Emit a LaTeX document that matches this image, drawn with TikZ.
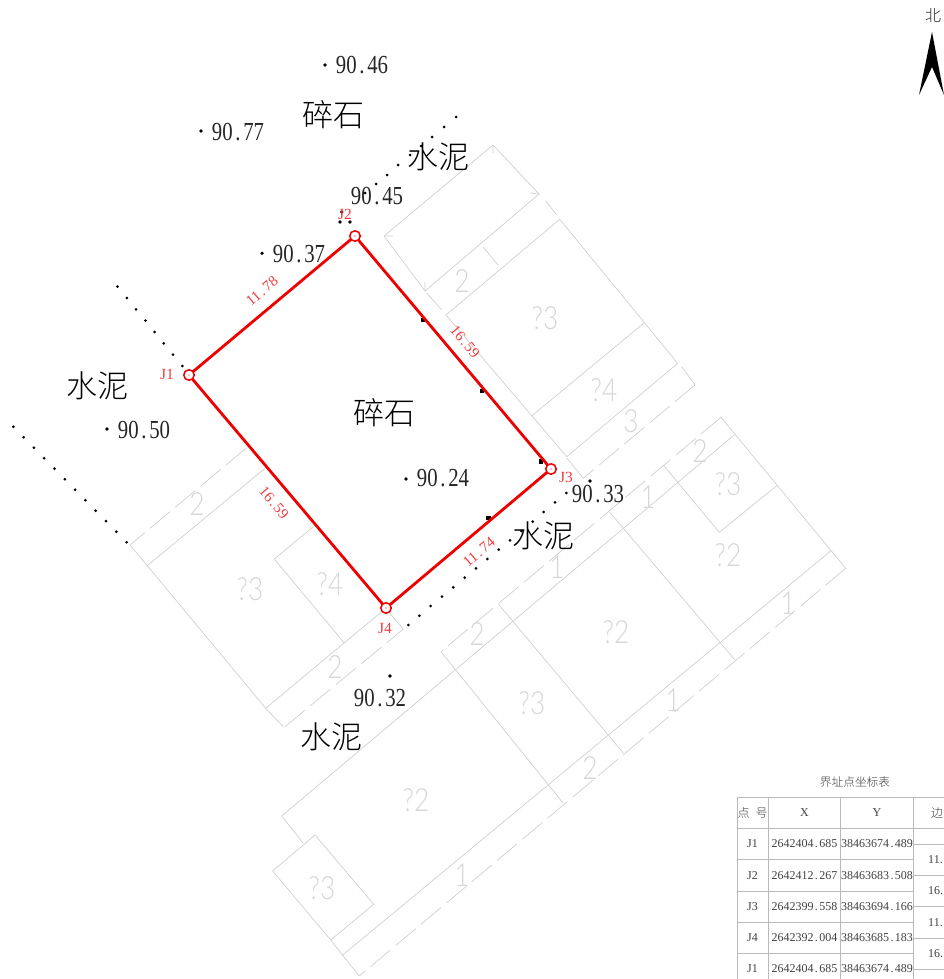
\documentclass[tikz,border=0pt]{standalone}
\usepackage{fontspec}
\usepackage{graphicx}
\setmainfont{Liberation Serif}
\newfontfamily\cjk{Noto Sans CJK SC Light}
\newfontfamily\thinsans{Lato Light}
\newcommand{\elev}[2]{\scalebox{0.8}[1]{\fontsize{26}{26}\selectfont #1\hspace{.13em}.\hspace{.13em}#2}}
\newcommand{\tnum}[2]{#1\hspace{.12em}.\hspace{.12em}#2}
\newcommand{\gtxt}[1]{\scalebox{0.82}[1]{#1}}
\definecolor{bnd}{RGB}{238,0,0}
\definecolor{lbl}{RGB}{240,60,60}
\definecolor{lin}{RGB}{205,205,205}
\definecolor{glab}{RGB}{214,214,214}
\definecolor{tbl}{RGB}{185,185,185}
\tikzset{
  gl/.style={draw=lin,line width=0.65pt},
  gd/.style={draw=lin,line width=0.65pt,dash pattern=on 26pt off 7pt},
  bnd line/.style={draw=bnd,line width=2.8pt},
  vertex/.style={circle,draw=bnd,fill=white,line width=1.5pt,minimum size=10.5pt,inner sep=0pt},
  elevtxt/.style={inner sep=0pt,text=black!85},
  word/.style={inner sep=0pt,text=black,font=\cjk\fontsize{31}{31}\selectfont},
  jlab/.style={inner sep=0pt,text=lbl,font=\fontsize{15.5}{15.5}\selectfont},
  dim/.style={inner sep=0pt,text=lbl,font=\fontsize{15}{15}\selectfont},
  glabel/.style={inner sep=0pt,text=glab,font=\thinsans\fontsize{32}{32}\selectfont},
  tcell/.style={inner sep=0pt,text=black!75,font=\fontsize{12}{12}\selectfont},
  tline/.style={draw=tbl,line width=0.7pt},
  sdot/.style={circle,fill=black,inner sep=0pt,minimum size=3.6pt},
  bdot/.style={rectangle,fill=black,inner sep=0pt,minimum size=4.5pt}
}
\begin{document}
\begin{tikzpicture}[x=1pt,y=-1pt]
\useasboundingbox (0,0) rectangle (944,979);
% --- gray house outlines
\draw[gl] (384,236)--(493,145)--(539,194)--(425,291)--cycle;
\draw[gl] (384,236)--(393,236) (493,145)--(493,153) (539,194)--(530,193) (425,291)--(425,282);
\draw[gl] (426.7,293)--(441.7,310) (545.7,200.7)--(556.7,215);
\draw[gl] (446,315)--(559.7,219.3)--(677.7,363.3)--(566.7,456.7)--cycle;
\draw[gl] (644.3,322.7)--(531.7,416) (483.3,247.3)--(498,265);
\draw[gl] (681.7,366.7)--(695,385);
\draw[gd] (695,385)--(583.3,478.3);
\draw[gl] (583.3,478.3)--(566.7,458);
% right block
\draw[gl] (721,417.3)--(845.7,568.3);
\draw[gd] (721,417.3)--(441,651.7);
\draw[gd] (845.7,568.3)--(359.3,976);
\draw[gl] (735,434.3)--(281.7,816)--(303.3,843.3);
\draw[gl] (315,835)--(272.7,871)--(330.7,940)--(373.7,904.3)--cycle;
\draw[gl] (330.7,940)--(359.3,976);
\draw[gl] (342.7,955)--(831,550.7);
\draw[gl] (609.3,511.7)--(735,660);
\draw[gl] (498.3,604)--(623.3,753);
\draw[gl] (441,651.7)--(563.3,803.3);
\draw[gl] (663.3,465)--(719.3,532.3)--(776.7,485.7);
% left block
\draw[gd] (246,448.3)--(130,545);
\draw[gl] (265,468.3)--(147.3,565.7);
\draw[gl] (130,545)--(147.3,565.7)--(265.7,708.3)--(283.3,726.7);
\draw[gl] (265.7,708.3)--(381.7,611.7);
\draw[gl] (313.3,526.7)--(274.3,559)--(344,642.7);
\draw[gd] (285,726.7)--(403.3,629);
\draw[gl] (403.3,629)--(390,613.3);
% --- gray labels
\foreach \x/\y/\t in {545/318/?3,604/390/?4,462/281/2,631/421/3,700/451/2,728/484/?3,728/555/?2,648/497/1,557/567/1,616/632/?2,477/634/2,532/703/?3,673/700/1,590/768/2,788/603/1,416/800/?2,322/888/?3,462/875/1,197/504/2,250/589/?3,330/584/?4,335/667/2}
  \node[glabel] at (\x,\y) {\gtxt{\t}};
% --- dotted lines
\foreach \x/\y in {456/117,444/127,432/137,421/146,410/155,398/165,387/175,376/184,365/193,
  117.5/286.7,126.8/298,136/309.3,145.4/320.6,154.7/332,163.7/343.3,173/354.7,182.3/366,
  408.3/625,419.3/615.7,430.7/606,442/596.7,453.3/587.3,464.7/577.7,476/568.3,487.3/559,498.7/549.7,510/540.3,521.3/531,532.7/521.7,543.7/512,555/502.3,566.3/493}
  \node[sdot,minimum size=3pt] at (\x,\y) {};
\foreach \i in {0,...,11}
  \node[sdot,minimum size=3pt] at ({13.3+\i*10.3},{426.7+\i*10.5}) {};
% --- elevation dots
\foreach \n/\x/\y in {e1/325/65,e2/201/131,e3/262/253.3,e4/107/429,e5/406/479,e6/390/676,e7/350/222,e8/590/481,e9/340/222,e10/341.7/212}
  \node[sdot] (\n) at (\x,\y) {};
\foreach \n/\x/\y in {b1/423/320,b2/482/391,b3/541/461.5,b4/488.5/518}
  \node[bdot] (\n) at (\x,\y) {};
% --- boundary
\coordinate (J1) at (189,375);
\coordinate (J2) at (355,236);
\coordinate (J3) at (551,469);
\coordinate (J4) at (386,608);
\draw[bnd line] (J1)--(J2)--(J3)--(J4)--cycle;
\node[vertex] (v1) at (J1) {};
\node[vertex] (v2) at (J2) {};
\node[vertex] (v3) at (J3) {};
\node[vertex] (v4) at (J4) {};
\foreach \p in {J1,J2,J3,J4} \fill[bnd] (\p) circle (0.7pt);
\node[jlab] at (167,374) {J1};
\node[jlab] at (345,214) {J2};
\node[jlab] at (566,477) {J3};
\node[jlab] at (385,628) {J4};
\node[dim,rotate=40] at (262,291) {\tnum{11}{78}};
\node[dim,rotate=-50] at (465,342) {\tnum{16}{59}};
\node[dim,rotate=-50] at (274,503) {\tnum{16}{59}};
\node[dim,rotate=40] at (479,552) {\tnum{11}{74}};
% --- elevations
\node[elevtxt] at (362,65) {\elev{90}{46}};
\node[elevtxt] at (238,132) {\elev{90}{77}};
\node[elevtxt] at (377,196) {\elev{90}{45}};
\node[elevtxt] at (299,254) {\elev{90}{37}};
\node[elevtxt] at (144,430) {\elev{90}{50}};
\node[elevtxt] at (443,478) {\elev{90}{24}};
\node[elevtxt] at (598,494) {\elev{90}{33}};
\node[elevtxt] at (380,698) {\elev{90}{32}};
% --- surface words
\node[word] at (333,115) {碎石};
\node[word] at (438,157) {水泥};
\node[word] at (97,386) {水泥};
\node[word] at (384,413) {碎石};
\node[word] at (543,536) {水泥};
\node[word] at (331,737) {水泥};
% --- north arrow
\node[inner sep=0pt,font=\cjk\fontsize{16}{16}\selectfont,text=black!85] at (933,16) {北};
\fill[black] (932,32)--(919,95)--(932,67)--(944,95)--cycle;
% --- table
\node[inner sep=0pt,font=\cjk\fontsize{11.7}{12}\selectfont,text=black!75] at (855,782) {界址点坐标表};
\draw[tline] (737.3,797.3)--(944,797.3);
\draw[tline] (737.3,828.3)--(944,828.3);
\foreach \y in {859.3,891.3,922.7,953.3} \draw[tline] (737.3,\y)--(913.3,\y);
\foreach \x in {737.3,768.3,840.7,913.3} \draw[tline] (\x,797.3)--(\x,979);
\foreach \y in {844,875.7,906,938,969} \draw[tline] (913.3,\y)--(944,\y);
\node[inner sep=0pt,font=\cjk\fontsize{12}{12}\selectfont,text=black!75] at (752.5,813) {点\hspace{.5em}号};
\node[tcell] at (804.5,813) {X};
\node[tcell] at (877,813) {Y};
\node[inner sep=0pt,font=\cjk\fontsize{12}{12}\selectfont,text=black!75] at (937,813) {边};
\foreach \r/\y/\j/\a/\b/\c/\d in {1/844/J1/2642404/685/38463674/489,2/875.7/J2/2642412/267/38463683/508,3/906.5/J3/2642399/558/38463694/166,4/938/J4/2642392/004/38463685/183,5/969/J1/2642404/685/38463674/489}{
  \node[tcell] (r\r j) at (752.5,\y) {\j};
  \node[tcell] (r\r x) at (804.5,\y) {\tnum{\a}{\b}};
  \node[tcell] (r\r y) at (877,\y) {\tnum{\c}{\d}};
}
\node[tcell,anchor=west] at (928,859.5) {11.};
\node[tcell,anchor=west] at (928,891) {16.};
\node[tcell,anchor=west] at (928,922.5) {11.};
\node[tcell,anchor=west] at (928,954) {16.};
\end{tikzpicture}
\end{document}
